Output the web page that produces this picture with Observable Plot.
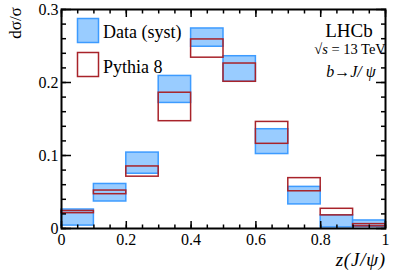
<!DOCTYPE html>
<html><head><meta charset="utf-8">
<script src="https://cdn.jsdelivr.net/npm/d3@7"></script>
<script src="https://cdn.jsdelivr.net/npm/@observablehq/plot@0.6"></script>
<style>
body{margin:0;background:#fff}
#wrap{width:407px;height:276px}
</style></head><body><div id="wrap"></div>
<script>
// Bins of z(J/psi)
const binLo = [0.0, 0.1, 0.2, 0.3, 0.4, 0.5, 0.6, 0.7, 0.8, 0.9];
const binHi = [0.1, 0.2, 0.3, 0.4, 0.5, 0.6, 0.7, 0.8, 0.9, 1.0];
// Data (syst) band: lower / upper edge
const dataLo = [0.004, 0.037, 0.075, 0.172, 0.249, 0.201, 0.102, 0.033, 0.0015, 0.002];
const dataHi = [0.026, 0.061, 0.104, 0.209, 0.274, 0.236, 0.136, 0.057, 0.018, 0.011];
// Pythia 8 band: lower / upper edge
const pythiaLo = [0.021, 0.047, 0.071, 0.147, 0.234, 0.201, 0.116, 0.051, 0.018, 0.003];
const pythiaHi = [0.024, 0.052, 0.085, 0.186, 0.259, 0.226, 0.146, 0.069, 0.027, 0.006];
// Tick labels
const xTicks = [0, 0.2, 0.4, 0.6, 0.8, 1];
const yTicks = [0, 0.1, 0.2, 0.3];
const legendLabels = ["Data (syst)", "Pythia 8"];

const rows = binLo.map((lo, i) => ({lo, hi: binHi[i], dLo: dataLo[i], dHi: dataHi[i], pLo: pythiaLo[i], pHi: pythiaHi[i]}));
const xMinor = d3.range(0, 1.0001, 0.05);
const yMinor = d3.range(0, 0.3001, 0.02);
const fmt = d => String(d);
const blueFill = "#99ccff", blueLine = "#3d9bff", red = "#a8232a";
const serif = "Liberation Serif, Times New Roman, serif";

const chart = Plot.plot({
  width: 407, height: 276,
  marginLeft: 61, marginRight: 22, marginTop: 9, marginBottom: 48,
  style: {fontFamily: serif, fontSize: "16px", background: "white", color: "black"},
  x: {domain: [0, 1], label: null},
  y: {domain: [0, 0.3], label: null},
  marks: [
    Plot.rect(rows, {x1: "lo", x2: "hi", y1: "dLo", y2: "dHi", fill: blueFill, stroke: blueLine, strokeWidth: 1.5, inset: 0}),
    Plot.rect(rows, {x1: "lo", x2: "hi", y1: "pLo", y2: "pHi", fill: "none", stroke: red, strokeWidth: 1.5, inset: 0}),
    // bottom
    Plot.axisX({ticks: xTicks, tickSize: 0, tickPadding: 5, tickFormat: fmt, fontSize: 16, label: null}),
    Plot.axisX({ticks: xTicks, tickSize: -7, tickFormat: () => "", strokeWidth: 1.5, label: null}),
    Plot.axisX({ticks: xMinor, tickSize: -3.5, tickFormat: () => "", strokeWidth: 1.5, label: null}),
    // top
    Plot.axisX({anchor: "top", ticks: xTicks, tickSize: -7, tickFormat: () => "", strokeWidth: 1.5, label: null}),
    Plot.axisX({anchor: "top", ticks: xMinor, tickSize: -3.5, tickFormat: () => "", strokeWidth: 1.5, label: null}),
    // left
    Plot.axisY({ticks: yTicks, tickSize: 0, tickPadding: 3, tickFormat: fmt, fontSize: 16, label: null}),
    Plot.axisY({ticks: yTicks, tickSize: -10, tickFormat: () => "", strokeWidth: 1.5, label: null}),
    Plot.axisY({ticks: yMinor, tickSize: -5, tickFormat: () => "", strokeWidth: 1.5, label: null}),
    // right
    Plot.axisY({anchor: "right", ticks: yTicks, tickSize: -10, tickFormat: () => "", strokeWidth: 1.5, label: null}),
    Plot.axisY({anchor: "right", ticks: yMinor, tickSize: -5, tickFormat: () => "", strokeWidth: 1.5, label: null}),
    Plot.frame({stroke: "black", strokeWidth: 2})
  ]
});
document.getElementById("wrap").appendChild(chart);

// Annotations, legend, axis titles
const svg = d3.select(chart);
const g = svg.append("g").attr("font-family", serif).attr("fill", "black").attr("text-anchor", "start");
g.append("text").attr("transform", "translate(21,23) rotate(-90)").attr("text-anchor", "middle")
  .attr("font-size", 17).text("dσ/σ");
g.append("text").attr("x", 386).attr("y", 266).attr("text-anchor", "end")
  .attr("font-size", 19).attr("font-style", "italic").attr("letter-spacing", 0.8).text("z(J/ψ)");
// legend
g.append("rect").attr("x", 77.5).attr("y", 18.5).attr("width", 21).attr("height", 24)
  .attr("fill", blueFill).attr("stroke", blueLine).attr("stroke-width", 1.5);
g.append("rect").attr("x", 77.5).attr("y", 52.5).attr("width", 21).attr("height", 24)
  .attr("fill", "none").attr("stroke", red).attr("stroke-width", 1.5);
g.append("text").attr("x", 103).attr("y", 37.5).attr("font-size", 18).text(legendLabels[0]);
g.append("text").attr("x", 103).attr("y", 72.5).attr("font-size", 18).text(legendLabels[1]);
// LHCb labels
g.append("text").attr("x", 349).attr("y", 37).attr("text-anchor", "middle").attr("font-size", 19).text("LHCb");
const t2 = g.append("text").attr("x", 350).attr("y", 54).attr("text-anchor", "middle").attr("font-size", 14.5);
t2.append("tspan").text("√");
t2.append("tspan").attr("font-style", "italic").text("s");
t2.append("tspan").text(" = 13 TeV");
const t3 = g.append("text").attr("x", 351).attr("y", 77).attr("text-anchor", "middle").attr("font-size", 16).attr("font-style", "italic");
t3.append("tspan").text("b");
t3.append("tspan").attr("font-style", "normal").text("→");
t3.append("tspan").text("J/ ψ");
</script>
</body></html>
